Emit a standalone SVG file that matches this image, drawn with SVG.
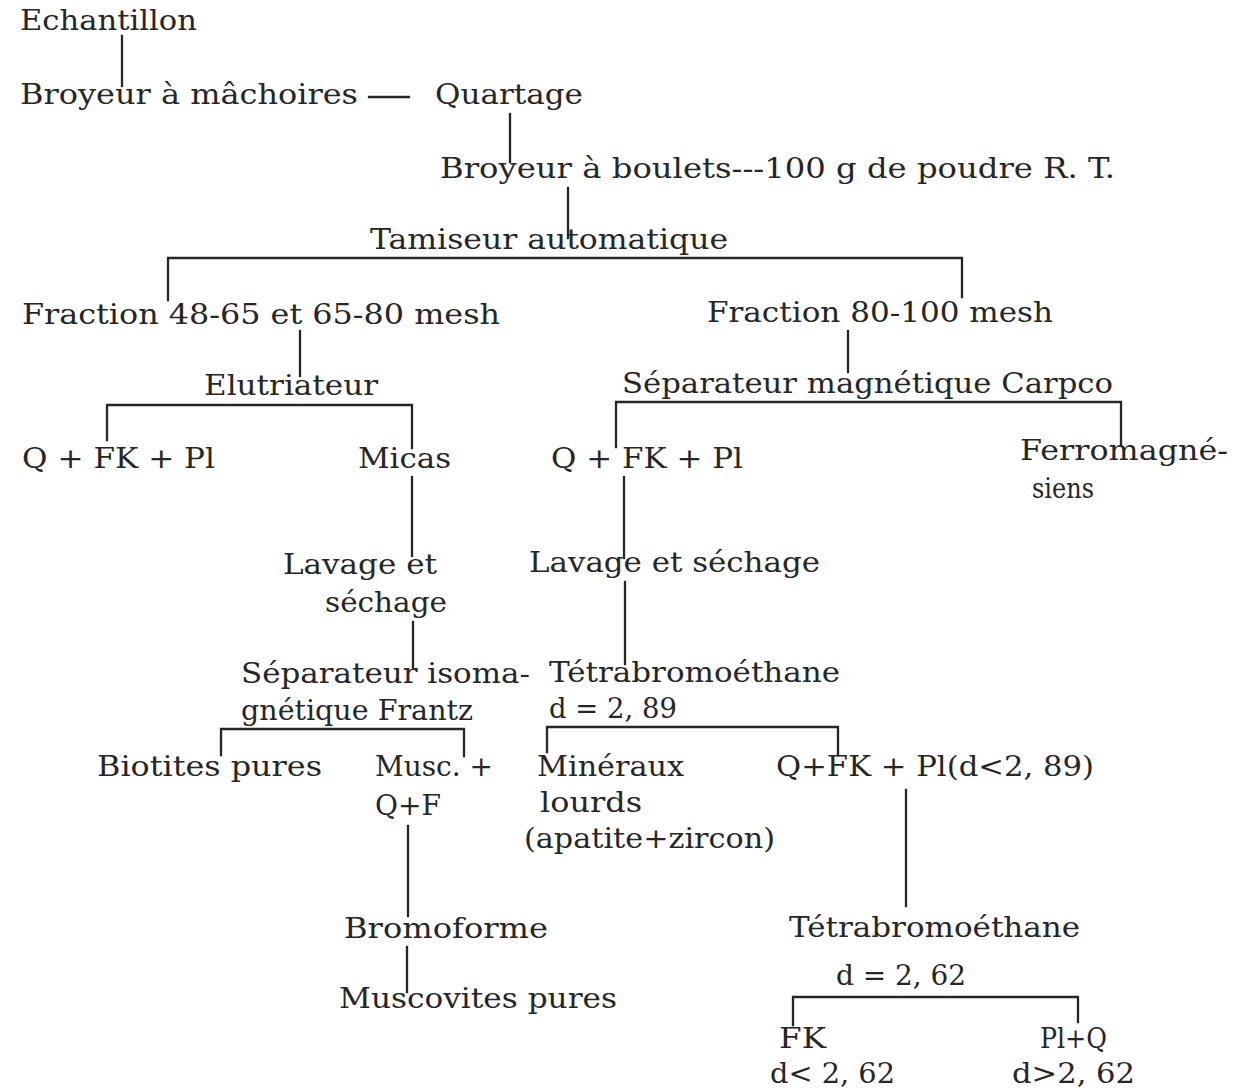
<svg xmlns="http://www.w3.org/2000/svg" width="1237" height="1090" viewBox="0 0 1237 1090">
<style>
text{font-family:"DejaVu Serif","Liberation Serif",serif;font-size:27px;fill:#262626}
.c path{fill:none;stroke:#262626;stroke-width:2.3;stroke-linecap:square}
</style>
<rect width="1237" height="1090" fill="#ffffff"/>
<g class="c" id="connectors">
<path d="M122,36 V86"/>
<path d="M369,97 H409"/>
<path d="M510,114 V162"/>
<path d="M568,188 V238"/>
<path d="M168,300 V258 H962 V297"/>
<path d="M300,331 V376"/>
<path d="M107,440 V405 H412 V448"/>
<path d="M412,477 V556"/>
<path d="M848,331 V372"/>
<path d="M616,447 V402 H1121 V445"/>
<path d="M624,477 V558"/>
<path d="M413,622 V667"/>
<path d="M625,582 V664"/>
<path d="M221,755 V729 H464 V756"/>
<path d="M547,752 V727 H838 V755"/>
<path d="M408,826 V916"/>
<path d="M906,790 V906"/>
<path d="M407,947 V992"/>
<path d="M793,1025 V997 H1078 V1022"/>
</g>
<g id="echantillon"><text x="20" y="30" textLength="177" lengthAdjust="spacingAndGlyphs">Echantillon</text></g>
<g id="broyeur-machoires"><text x="20" y="104" textLength="338" lengthAdjust="spacingAndGlyphs">Broyeur à mâchoires</text></g>
<g id="quartage"><text x="435" y="104" textLength="148" lengthAdjust="spacingAndGlyphs">Quartage</text></g>
<g id="broyeur-boulets"><text x="440" y="178" textLength="675" lengthAdjust="spacingAndGlyphs">Broyeur à boulets---100 g de poudre R. T.</text></g>
<g id="tamiseur"><text x="370" y="249" textLength="358" lengthAdjust="spacingAndGlyphs">Tamiseur automatique</text></g>
<g id="fraction-48"><text x="22" y="324" textLength="478" lengthAdjust="spacingAndGlyphs">Fraction 48-65 et 65-80 mesh</text></g>
<g id="fraction-80"><text x="707" y="322" textLength="346" lengthAdjust="spacingAndGlyphs">Fraction 80-100 mesh</text></g>
<g id="elutriateur"><text x="204" y="395" textLength="174" lengthAdjust="spacingAndGlyphs">Elutriateur</text></g>
<g id="carpco"><text x="622" y="393" textLength="491" lengthAdjust="spacingAndGlyphs">Séparateur magnétique Carpco</text></g>
<g id="qfkpl-1"><text x="22" y="468" textLength="193" lengthAdjust="spacingAndGlyphs">Q + FK + Pl</text></g>
<g id="micas"><text x="358" y="468" textLength="93" lengthAdjust="spacingAndGlyphs">Micas</text></g>
<g id="qfkpl-2"><text x="551" y="468" textLength="192" lengthAdjust="spacingAndGlyphs">Q + FK + Pl</text></g>
<g id="ferromagnesiens"><text x="1020" y="460" textLength="208" lengthAdjust="spacingAndGlyphs">Ferromagné-</text><text x="1032" y="498" textLength="62" lengthAdjust="spacingAndGlyphs">siens</text></g>
<g id="lavage-1"><text x="283" y="574" textLength="154" lengthAdjust="spacingAndGlyphs">Lavage et</text><text x="325" y="612" textLength="122" lengthAdjust="spacingAndGlyphs">séchage</text></g>
<g id="lavage-2"><text x="529" y="572" textLength="291" lengthAdjust="spacingAndGlyphs">Lavage et séchage</text></g>
<g id="frantz"><text x="241" y="683" textLength="289" lengthAdjust="spacingAndGlyphs">Séparateur isoma-</text><text x="241" y="720" textLength="232" lengthAdjust="spacingAndGlyphs">gnétique Frantz</text></g>
<g id="tetrabromo-1"><text x="549" y="682" textLength="291" lengthAdjust="spacingAndGlyphs">Tétrabromoéthane</text><text x="549" y="718" textLength="128" lengthAdjust="spacingAndGlyphs">d = 2, 89</text></g>
<g id="biotites"><text x="97" y="776" textLength="225" lengthAdjust="spacingAndGlyphs">Biotites pures</text></g>
<g id="musc"><text x="375" y="776" textLength="118" lengthAdjust="spacingAndGlyphs">Musc. +</text><text x="375" y="815" textLength="66" lengthAdjust="spacingAndGlyphs">Q+F</text></g>
<g id="mineraux"><text x="537" y="776" textLength="147" lengthAdjust="spacingAndGlyphs">Minéraux</text><text x="540" y="812" textLength="102" lengthAdjust="spacingAndGlyphs">lourds</text><text x="524" y="848" textLength="251" lengthAdjust="spacingAndGlyphs">(apatite+zircon)</text></g>
<g id="qfkpl-light"><text x="776" y="776" textLength="318" lengthAdjust="spacingAndGlyphs">Q+FK + Pl(d&lt;2, 89)</text></g>
<g id="bromoforme"><text x="344" y="938" textLength="204" lengthAdjust="spacingAndGlyphs">Bromoforme</text></g>
<g id="tetrabromo-2"><text x="789" y="937" textLength="291" lengthAdjust="spacingAndGlyphs">Tétrabromoéthane</text></g>
<g id="muscovites"><text x="339" y="1008" textLength="278" lengthAdjust="spacingAndGlyphs">Muscovites pures</text></g>
<g id="d262"><text x="836" y="985" textLength="130" lengthAdjust="spacingAndGlyphs">d = 2, 62</text></g>
<g id="fk"><text x="779" y="1048" textLength="47" lengthAdjust="spacingAndGlyphs">FK</text><text x="770" y="1083" textLength="125" lengthAdjust="spacingAndGlyphs">d&lt; 2, 62</text></g>
<g id="plq"><text x="1040" y="1048" textLength="67" lengthAdjust="spacingAndGlyphs">Pl+Q</text><text x="1012" y="1083" textLength="123" lengthAdjust="spacingAndGlyphs">d&gt;2, 62</text></g>
</svg>
